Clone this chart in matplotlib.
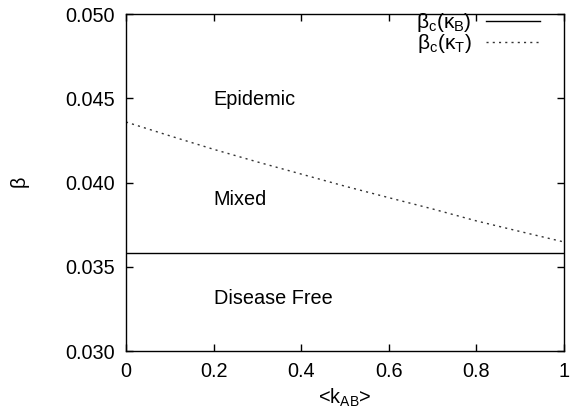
import matplotlib
matplotlib.use('Agg')
import matplotlib.pyplot as plt

plt.rcParams['font.family'] = ['Liberation Sans', 'DejaVu Sans']
plt.rcParams['mathtext.fontset'] = 'custom'
plt.rcParams['mathtext.rm'] = 'Liberation Sans'
plt.rcParams['mathtext.it'] = 'Liberation Sans'
plt.rcParams['mathtext.default'] = 'regular'

# data
k_ab = [0.0, 0.1, 0.2, 0.3, 0.4, 0.5, 0.6, 0.7, 0.8, 0.9, 1.0]
beta_T = [0.04359, 0.04277, 0.04197, 0.04122, 0.04050, 0.03978,
          0.03910, 0.03843, 0.03772, 0.03709, 0.03647]
beta_B = [0.03582] * len(k_ab)

x_ticks = [0, 0.2, 0.4, 0.6, 0.8, 1]
x_ticklabels = ['0', '0.2', '0.4', '0.6', '0.8', '1']
y_ticks = [0.030, 0.035, 0.040, 0.045, 0.050]
y_ticklabels = ['0.030', '0.035', '0.040', '0.045', '0.050']

fig = plt.figure(figsize=(5.71, 4.17), dpi=100)
ax = fig.add_axes([126 / 571, 1 - 351 / 417, 438 / 571, 337 / 417])

ax.plot(k_ab, beta_B, color='black', lw=1.0, label=r'$\beta_c(\kappa_B)$')
ax.plot(k_ab, beta_T, color='#333333', lw=1.0, linestyle=(0, (1.5, 3)),
        label=r'$\beta_c(\kappa_T)$')

fs = 14.3
ax.text(0.2, 0.0449, 'Epidemic', fontsize=fs, va='center', ha='left')
ax.text(0.2, 0.0390, 'Mixed', fontsize=fs, va='center', ha='left')
ax.text(0.2, 0.0331, 'Disease Free', fontsize=fs, va='center', ha='left')

ax.set_xlim(0, 1)
ax.set_ylim(0.030, 0.050)
ax.set_xticks(x_ticks)
ax.set_xticklabels(x_ticklabels)
ax.set_yticks(y_ticks)
ax.set_yticklabels(y_ticklabels)
ax.tick_params(direction='in', length=5, width=1, top=True, right=True,
               labelsize=fs, pad=8)
for s in ax.spines.values():
    s.set_linewidth(1.0)

ax.set_xlabel('<$k_{AB}$>', fontsize=fs, labelpad=4)
ax.set_ylabel(r'$\beta$', fontsize=fs, labelpad=24)

ax.legend(loc='upper right', frameon=False, markerfirst=False, fontsize=15,
          handlelength=2.6, handletextpad=0.7, labelspacing=-0.1,
          borderaxespad=0.0, borderpad=0.1, bbox_to_anchor=(0.95, 1.015))

fig.savefig('out.png', dpi=100)
